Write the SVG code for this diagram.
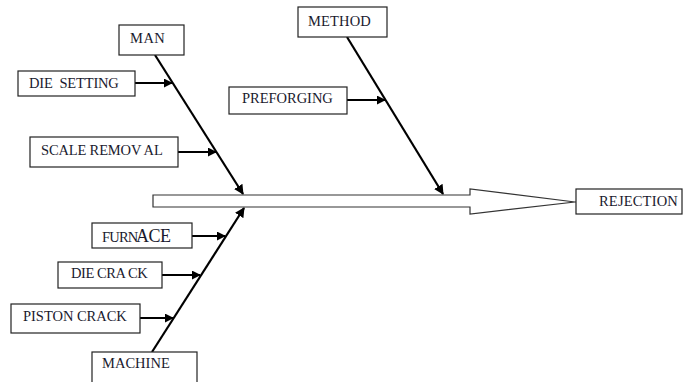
<svg xmlns="http://www.w3.org/2000/svg" width="683" height="382" viewBox="0 0 683 382">
<style>
.box{fill:#fff;stroke:#222;stroke-width:1.2}
.t{font-family:"Liberation Serif","Times New Roman",serif;font-size:14.5px;fill:#1a1a2e;letter-spacing:-0.8px}
.bone{stroke:#000;stroke-width:2.2;fill:none}
.sub{stroke:#000;stroke-width:2;fill:none}
</style>
<defs>
<marker id="ah" viewBox="0 0 10 10" refX="9" refY="5" markerWidth="4.5" markerHeight="4.5" orient="auto" markerUnits="strokeWidth">
<path d="M0,0 L10,5 L0,10 z" fill="#000"/>
</marker>
</defs>
<rect width="683" height="382" fill="#fff"/>
<g id="connectors">
<polygon points="153,195 470,195 470,189 575,202 470,214 470,207 153,207" fill="#fff" stroke="#333" stroke-width="1.2"/>
<line x1="575" y1="202" x2="576" y2="202" stroke="#333" stroke-width="1.2"/>
<line class="bone" x1="155" y1="55" x2="243" y2="194" marker-end="url(#ah)"/>
<line class="bone" x1="347" y1="37" x2="443" y2="194" marker-end="url(#ah)"/>
<line class="bone" x1="152" y1="352" x2="244" y2="208" marker-end="url(#ah)"/>
<line class="sub" x1="135" y1="83" x2="172" y2="83" marker-end="url(#ah)"/>
<line class="sub" x1="178" y1="152" x2="216" y2="152" marker-end="url(#ah)"/>
<line class="sub" x1="347" y1="100" x2="385" y2="100" marker-end="url(#ah)"/>
<line class="sub" x1="192" y1="236" x2="225" y2="236" marker-end="url(#ah)"/>
<line class="sub" x1="162" y1="275" x2="200" y2="275" marker-end="url(#ah)"/>
<line class="sub" x1="140" y1="318" x2="173" y2="318" marker-end="url(#ah)"/>
</g>
<g id="man"><rect class="box" x="119" y="25" width="65" height="30"/><text class="t" x="130" y="43" textLength="34">MAN</text></g>
<g id="die-setting"><rect class="box" x="18" y="71" width="117" height="25"/><text class="t" x="29" y="88" textLength="89" xml:space="preserve">DIE  SETTING</text></g>
<g id="scale-removal"><rect class="box" x="30" y="137" width="148" height="30"/><text class="t" x="41" y="155" textLength="121">SCALE REMOV AL</text></g>
<g id="method"><rect class="box" x="298" y="7" width="89" height="30"/><text class="t" x="308" y="26" textLength="62">METHOD</text></g>
<g id="preforging"><rect class="box" x="229" y="87" width="118" height="27"/><text class="t" x="242" y="103" textLength="90">PREFORGING</text></g>
<g id="rejection"><rect class="box" x="576" y="189" width="106" height="25"/><text class="t" x="599" y="206" textLength="78">REJECTION</text></g>
<g id="furnace"><rect class="box" x="92" y="223" width="100" height="25"/><text class="t" x="102" y="242" font-size="14.5">FURN</text><text class="t" x="136" y="242" style="font-size:18px;letter-spacing:-0.5px">ACE</text></g>
<g id="die-crack"><rect class="box" x="58" y="262" width="104" height="26"/><text class="t" x="71" y="278" textLength="76">DIE CRA CK</text></g>
<g id="piston-crack"><rect class="box" x="11" y="304" width="129" height="29"/><text class="t" x="23" y="321" textLength="103">PISTON CRACK</text></g>
<g id="machine"><rect class="box" x="92" y="352" width="105" height="40"/><text class="t" x="102" y="368" textLength="67">MACHINE</text></g>
</svg>
